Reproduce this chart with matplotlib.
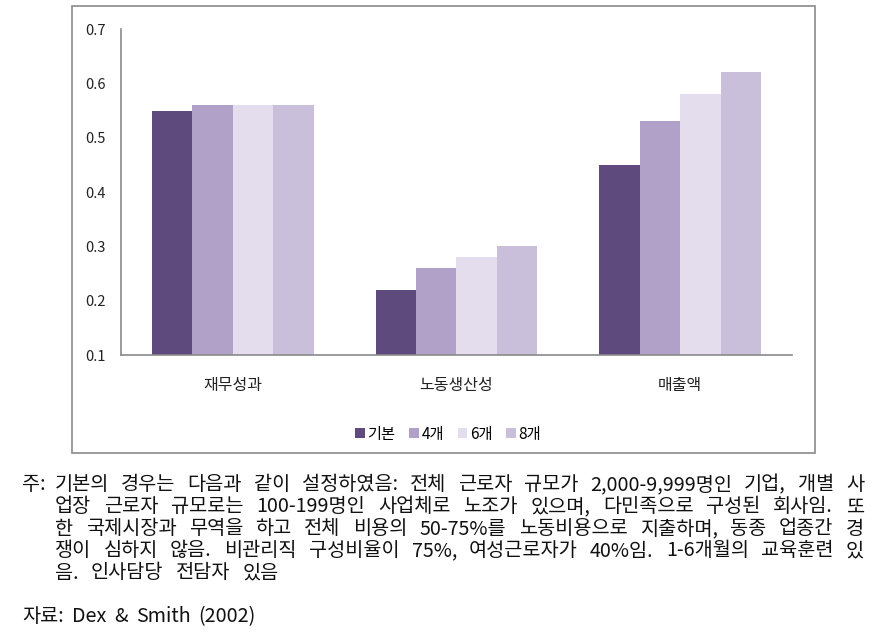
import matplotlib
matplotlib.use("Agg")
import matplotlib.pyplot as plt
from matplotlib.patches import Rectangle
import numpy as np

plt.rcParams['font.family'] = ['Noto Sans CJK KR', 'DejaVu Sans']

categories = ['재무성과', '노동생산성', '매출액']
series_names = ['기본', '4개', '6개', '8개']
base = [0.55, 0.22, 0.45]
four = [0.56, 0.26, 0.53]
six = [0.56, 0.28, 0.58]
eight = [0.56, 0.30, 0.62]
yticks = [0.1, 0.2, 0.3, 0.4, 0.5, 0.6, 0.7]
colors = ['#5f4a7d', '#b1a1c8', '#e3dded', '#c9bfdb']

note_prefix = '주:'
note_lines = [
    '기본의 경우는 다음과 같이 설정하였음: 전체 근로자 규모가 2,000-9,999명인 기업, 개별 사',
    '업장 근로자 규모로는 100-199명인 사업체로 노조가 있으며, 다민족으로 구성된 회사임. 또',
    '한 국제시장과 무역을 하고 전체 비용의 50-75%를 노동비용으로 지출하며, 동종 업종간 경',
    '쟁이 심하지 않음. 비관리직 구성비율이 75%, 여성근로자가 40%임. 1-6개월의 교육훈련 있',
    '음. 인사담당 전담자 있음',
]
source = '자료: Dex & Smith (2002)'

W, H = 878, 633
fig = plt.figure(figsize=(W / 100, H / 100), dpi=100)
renderer = fig.canvas.get_renderer()

# outer chart box
fig.patches.append(Rectangle((72 / W, 1 - 453 / H), (815 - 72) / W, (453 - 6) / H,
                             transform=fig.transFigure, fill=False,
                             edgecolor='#8a8a8a', linewidth=1.2))

ax = fig.add_axes([121 / W, 1 - 355 / H, 671 / W, (355 - 29) / H])
x = np.arange(len(categories)) + 0.5
bw = 0.181
data = [base, four, six, eight]
for i, (vals, name, c) in enumerate(zip(data, series_names, colors)):
    ax.bar(x + (i - 1.5) * bw, np.array(vals) - 0.1, bottom=0.1, width=bw,
           color=c, label=name, linewidth=0)

ax.set_xlim(0, 3)
ax.set_ylim(0.1, 0.7)
ax.set_yticks(yticks)
ax.set_yticklabels([f'{v:.1f}' for v in yticks])
ax.set_xticks(x)
ax.set_xticklabels(categories)
ax.tick_params(axis='y', length=0, pad=11, labelsize=10.5, labelcolor='#222222')
ax.tick_params(axis='x', length=0, pad=16, labelsize=11.5, labelcolor='#222222')
for s in ['top', 'right']:
    ax.spines[s].set_visible(False)
for s in ['left', 'bottom']:
    ax.spines[s].set_color('#8a8a8a')
    ax.spines[s].set_linewidth(1.2)

fig.legend(loc='center', bbox_to_anchor=(448 / W, 1 - 434 / H), ncol=4,
           frameon=False, handlelength=0.65, handleheight=0.65,
           handletextpad=0.15, columnspacing=0.9, fontsize=11)

# notes (justified lines)
fs = 14.2
tcol = '#111111'


def text_width(s):
    t = fig.text(0, 0, s, fontsize=fs)
    w = t.get_window_extent(renderer).width
    t.remove()
    return w


def draw_line(s, x0, y, x1=None, gap=None):
    words = s.split(' ')
    widths = [text_width(w) for w in words]
    if x1 is not None and len(words) > 1:
        gap = (x1 - x0 - sum(widths)) / (len(words) - 1)
    xx = x0
    for w, wd in zip(words, widths):
        fig.text(xx / W, 1 - y / H, w, fontsize=fs, va='center', ha='left', color=tcol)
        xx += wd + gap
    return gap


ys = [485, 507, 529, 551, 573]
right = 864
fig.text(22 / W, 1 - ys[0] / H, note_prefix, fontsize=fs, va='center', ha='left', color=tcol)
gaps = []
for k, line in enumerate(note_lines):
    if k < len(note_lines) - 1:
        gaps.append(draw_line(line, 55, ys[k], x1=right))
    else:
        draw_line(line, 55, ys[k], gap=float(np.mean(gaps)))

draw_line(source, 22, 617, gap=8)

fig.savefig('out.png', dpi=100)
